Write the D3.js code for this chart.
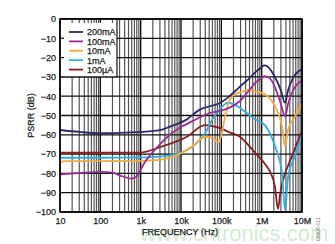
<!DOCTYPE html>
<html>
<head>
<meta charset="utf-8">
<script src="https://cdn.jsdelivr.net/npm/d3@7"></script>
<style>
  body { margin: 0; background: #fff; }
  svg text { font-family: "Liberation Sans", Arial, sans-serif; }
  .lbl { stroke: #222; stroke-width: 0.25px; }
</style>
</head>
<body>
<svg id="chart" width="335" height="244"></svg>
<script>
// series names (legend order)
const names = ['200mA', '100mA', '10mA', '1mA', '100µA'];
const colors = ['#2b2a6b', '#9a2e96', '#f7a83c', '#2eade2', '#8a1c1f'];

// frequency (Hz) and PSRR (dB), one pair per series
const f200 = [10, 30, 100, 300, 1e3, 3e3, 5.3e3, 14e3, 30e3, 52e3, 93e3, 150e3, 290e3, 480e3, 700e3, 1e6, 1.15e6, 1.4e6, 2e6, 3e6, 3.8e6, 4.5e6, 6e6, 1e7];
const db200 = [-57.5, -58.5, -59.2, -59, -58.5, -57.6, -55.8, -52, -46.8, -45.2, -43.5, -40.5, -35, -31, -27.5, -25, -24, -24.6, -29, -37, -43.5, -37, -30.5, -26];

const f100 = [10, 30, 100, 200, 300, 600, 800, 1.2e3, 2e3, 3e3, 5.3e3, 10e3, 22e3, 52e3, 93e3, 150e3, 290e3, 480e3, 700e3, 1e6, 1.2e6, 1.6e6, 2.1e6, 3e6, 3.8e6, 4.5e6, 6e6, 1e7];
const db100 = [-80.5, -79.8, -79.2, -79.6, -81, -82.7, -81.5, -75, -69, -65, -60, -56, -52.3, -48.7, -47.6, -46.2, -42.5, -37.2, -33, -30.5, -29.6, -30.8, -35, -44, -50.6, -44, -37, -31.6];

const f10 = [10, 13, 30, 100, 300, 1e3, 3e3, 5.3e3, 10e3, 22e3, 39e3, 60e3, 85e3, 100e3, 120e3, 147e3, 200e3, 290e3, 480e3, 700e3, 1.2e6, 2.1e6, 3.2e6, 3.8e6, 4.5e6, 6.7e6, 1e7];
const db10 = [-74.3, -73.6, -73.6, -73.6, -73.6, -73.5, -73, -71.8, -69.5, -65, -61, -61.5, -64, -60, -52, -44, -39.5, -38, -36.8, -37.5, -39, -45, -55.8, -66, -57.5, -50.6, -44];

const f1 = [10, 100, 1e3, 3e3, 5.3e3, 16.7e3, 39e3, 60e3, 93e3, 147e3, 260e3, 386e3, 684e3, 1.2e6, 2.14e6, 3.2e6, 3.8e6, 4.5e6, 6.7e6, 1e7];
const db1 = [-71.9, -71.9, -71.7, -71.3, -70.6, -67, -59.5, -52, -46.5, -43.4, -45.4, -48, -52, -55, -66, -80, -99, -82, -71, -60];

const f01 = [10, 100, 1e3, 3e3, 14e3, 39e3, 60e3, 93e3, 150e3, 290e3, 500e3, 700e3, 1.2e6, 1.6e6, 2.14e6, 2.54e6, 2.9e6, 3.4e6, 5.6e6, 1e7];
const db01 = [-69.3, -69.3, -69.2, -66.4, -61, -55, -55.5, -56.5, -58.5, -61, -66, -69.5, -75, -79, -87, -98.5, -90, -83.4, -71.3, -58];

const freqs = [f200, f100, f10, f1, f01];
const values = [db200, db100, db10, db1, db01];

const xTicks = [10, 100, 1e3, 1e4, 1e5, 1e6, 1e7];
const xLabels = ['10', '100', '1k', '10k', '100k', '1M', '10M'];
const yTicks = d3.range(-100, 1, 10);

const svg = d3.select('#chart');
const pl = 60, pr = 302, pt = 19, pb = 212;

const x = d3.scaleLog().domain([10, 1e7]).range([pl, pr]);
const y = d3.scaleLinear().domain([-100, 0]).range([pb, pt]);

// watermark, behind everything
svg.append('text')
    .attr('x', 140).attr('y', 241)
    .attr('font-size', 22)
    .attr('fill', '#9fd49a')
    .attr('opacity', 0.45)
    .text('www.cntronics.com');

// grid
const grid = svg.append('g');
grid.selectAll('line.v')
    .data(x.ticks())
    .enter()
    .append('line')
    .attr('x1', d => x(d)).attr('x2', d => x(d))
    .attr('y1', pt).attr('y2', pb)
    .attr('stroke', d => xTicks.includes(d) ? '#111' : '#555')
    .attr('stroke-width', d => xTicks.includes(d) ? 1.4 : 1.2);

grid.selectAll('line.h')
    .data(yTicks)
    .enter()
    .append('line')
    .attr('x1', pl).attr('x2', pr)
    .attr('y1', d => y(d)).attr('y2', d => y(d))
    .attr('stroke', '#111')
    .attr('stroke-width', 1.3);

svg.append('clipPath').attr('id', 'clip')
    .append('rect')
    .attr('x', pl).attr('y', pt)
    .attr('width', pr - pl).attr('height', pb - pt);

const line = d3.line()
    .x(d => x(d[0]))
    .y(d => y(d[1]))
    .curve(d3.curveMonotoneX);

// draw from the bottom series up
const order = [4, 3, 2, 1, 0];
svg.append('g').attr('clip-path', 'url(#clip)')
    .selectAll('path')
    .data(order)
    .enter()
    .append('path')
    .attr('d', i => line(d3.zip(freqs[i], values[i])))
    .attr('fill', 'none')
    .attr('stroke', i => colors[i])
    .attr('stroke-width', 1.8);

// legend box
svg.append('rect')
    .attr('x', pl).attr('y', pt)
    .attr('width', 57).attr('height', y(-30) - pt)
    .attr('fill', '#fff')
    .attr('stroke', '#111')
    .attr('stroke-width', 1.2);

// inward ticks visible over legend
svg.append('g').selectAll('line')
    .data(x.ticks().filter(d => x(d) < pl + 57))
    .enter()
    .append('line')
    .attr('x1', d => x(d)).attr('x2', d => x(d))
    .attr('y1', pt).attr('y2', pt + 4)
    .attr('stroke', d => xTicks.includes(d) ? '#111' : '#555')
    .attr('stroke-width', 1.2);

svg.append('g').selectAll('line')
    .data([-10, -20])
    .enter()
    .append('line')
    .attr('x1', pl).attr('x2', pl + 4)
    .attr('y1', d => y(d)).attr('y2', d => y(d))
    .attr('stroke', '#111')
    .attr('stroke-width', 1.2);

const leg = svg.append('g').selectAll('g')
    .data(names)
    .enter()
    .append('g')
    .attr('transform', (d, i) => 'translate(0,' + (32 + i * 9.4) + ')');

leg.append('line')
    .attr('x1', 69).attr('x2', 83)
    .attr('stroke', (d, i) => colors[i])
    .attr('stroke-width', 1.8);

leg.append('text')
    .attr('class', 'lbl')
    .attr('x', 87).attr('y', 3.3)
    .attr('font-size', 9)
    .attr('fill', '#222')
    .text(d => d);

// frame
svg.append('rect')
    .attr('x', pl).attr('y', pt)
    .attr('width', pr - pl).attr('height', pb - pt)
    .attr('fill', 'none')
    .attr('stroke', '#000')
    .attr('stroke-width', 1.5);

// axes (labels only)
const xAxis = svg.append('g')
    .attr('transform', 'translate(0,' + pb + ')')
    .call(d3.axisBottom(x).tickValues(xTicks).tickFormat((d, i) => xLabels[i]).tickSize(0).tickPadding(6));
xAxis.select('.domain').remove();
xAxis.selectAll('text').attr('class', 'lbl').attr('font-size', 9).attr('fill', '#222').style('font-family', '"Liberation Sans", Arial, sans-serif');

const yAxis = svg.append('g')
    .attr('transform', 'translate(' + pl + ',0)')
    .call(d3.axisLeft(y).tickValues(yTicks).tickSize(0).tickPadding(4));
yAxis.select('.domain').remove();
yAxis.selectAll('text').attr('class', 'lbl').attr('font-size', 9).attr('fill', '#222').style('font-family', '"Liberation Sans", Arial, sans-serif');

svg.append('text')
    .attr('class', 'lbl')
    .attr('transform', 'translate(34,' + ((pt + pb) / 2) + ') rotate(-90)')
    .attr('text-anchor', 'middle')
    .attr('font-size', 9)
    .attr('fill', '#222')
    .text('PSRR (dB)');

svg.append('text')
    .attr('class', 'lbl')
    .attr('x', 180).attr('y', 235)
    .attr('text-anchor', 'middle')
    .attr('font-size', 9)
    .attr('fill', '#222')
    .text('FREQUENCY (Hz)');

// figure code
svg.append('text')
    .attr('transform', 'translate(320,241) rotate(-90)')
    .attr('font-size', 5)
    .attr('fill', '#777')
    .text('09606-011');
</script>
</body>
</html>
